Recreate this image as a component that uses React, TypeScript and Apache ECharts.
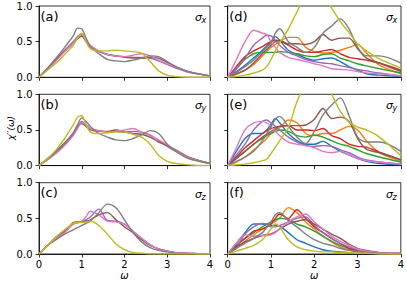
import React, { useEffect, useRef } from 'react';
import * as echarts from 'echarts';

// Frequency grid (omega)
const omega = [0, 0.2, 0.4, 0.6, 0.8, 0.9, 1.0, 1.1, 1.2, 1.4, 1.6, 1.8, 2.0, 2.2, 2.4, 2.6, 2.8, 3.0, 3.2, 3.5, 4.0];

// Panel (a) sigma_x, left
const aPurple = [0, 0.12, 0.25, 0.38, 0.5, 0.57, 0.6, 0.52, 0.44, 0.37, 0.32, 0.3, 0.29, 0.28, 0.28, 0.27, 0.23, 0.18, 0.13, 0.07, 0.02];
const aBrown = [0, 0.12, 0.25, 0.37, 0.48, 0.54, 0.58, 0.5, 0.43, 0.36, 0.32, 0.3, 0.28, 0.27, 0.27, 0.28, 0.27, 0.21, 0.15, 0.08, 0.02];
const aPink = [0, 0.11, 0.23, 0.36, 0.48, 0.56, 0.61, 0.53, 0.45, 0.37, 0.32, 0.3, 0.29, 0.31, 0.33, 0.3, 0.24, 0.19, 0.14, 0.08, 0.02];
const aGray = [0, 0.13, 0.27, 0.42, 0.58, 0.69, 0.68, 0.55, 0.43, 0.33, 0.25, 0.23, 0.22, 0.24, 0.27, 0.3, 0.29, 0.22, 0.15, 0.08, 0.02];
const aOlive = [0, 0.1, 0.2, 0.32, 0.45, 0.55, 0.62, 0.5, 0.4, 0.37, 0.37, 0.38, 0.37, 0.36, 0.34, 0.22, 0.09, 0.03, 0.01, 0, 0];

// Panel (b) sigma_y, left
const bPurple = [0, 0.09, 0.19, 0.3, 0.44, 0.54, 0.62, 0.57, 0.52, 0.49, 0.47, 0.48, 0.47, 0.48, 0.47, 0.43, 0.35, 0.27, 0.2, 0.11, 0.03];
const bBrown = [0, 0.1, 0.2, 0.32, 0.45, 0.55, 0.59, 0.55, 0.5, 0.48, 0.48, 0.5, 0.47, 0.45, 0.44, 0.4, 0.33, 0.28, 0.22, 0.12, 0.03];
const bPink = [0, 0.08, 0.17, 0.28, 0.42, 0.52, 0.6, 0.57, 0.52, 0.49, 0.47, 0.48, 0.5, 0.52, 0.47, 0.42, 0.36, 0.29, 0.21, 0.11, 0.03];
const bGray = [0, 0.09, 0.19, 0.31, 0.46, 0.57, 0.67, 0.62, 0.55, 0.45, 0.4, 0.36, 0.35, 0.38, 0.43, 0.49, 0.45, 0.3, 0.2, 0.1, 0.03];
const bOlive = [0, 0.1, 0.22, 0.38, 0.57, 0.68, 0.7, 0.58, 0.47, 0.45, 0.46, 0.47, 0.47, 0.44, 0.4, 0.3, 0.14, 0.06, 0.03, 0.01, 0];

// Panel (c) sigma_z, left
const cPurple = [0, 0.12, 0.24, 0.33, 0.42, 0.44, 0.45, 0.48, 0.52, 0.63, 0.47, 0.46, 0.42, 0.32, 0.22, 0.13, 0.07, 0.04, 0.02, 0.01, 0];
const cBrown = [0, 0.12, 0.22, 0.32, 0.44, 0.45, 0.45, 0.46, 0.48, 0.55, 0.58, 0.48, 0.38, 0.3, 0.2, 0.12, 0.07, 0.04, 0.02, 0.01, 0];
const cPink = [0, 0.12, 0.22, 0.3, 0.42, 0.44, 0.46, 0.52, 0.6, 0.55, 0.46, 0.45, 0.42, 0.32, 0.22, 0.13, 0.07, 0.04, 0.02, 0.01, 0];
const cGray = [0, 0.12, 0.2, 0.28, 0.34, 0.37, 0.4, 0.43, 0.46, 0.58, 0.7, 0.65, 0.48, 0.3, 0.17, 0.09, 0.05, 0.03, 0.01, 0.005, 0];
const cOlive = [0, 0.12, 0.24, 0.34, 0.43, 0.44, 0.44, 0.45, 0.46, 0.4, 0.28, 0.14, 0.06, 0.02, 0.01, 0, 0, 0, 0, 0, 0];

// Panel (d) sigma_x, right
const dBlue = [0, 0.08, 0.17, 0.27, 0.38, 0.44, 0.5, 0.57, 0.52, 0.38, 0.32, 0.27, 0.24, 0.26, 0.27, 0.22, 0.15, 0.1, 0.05, 0.03, 0.01];
const dOrange = [0, 0.04, 0.1, 0.18, 0.3, 0.36, 0.42, 0.46, 0.5, 0.56, 0.56, 0.42, 0.36, 0.34, 0.35, 0.38, 0.42, 0.46, 0.34, 0.17, 0.05];
const dGreen = [0, 0.12, 0.25, 0.33, 0.35, 0.35, 0.35, 0.35, 0.36, 0.35, 0.33, 0.3, 0.29, 0.32, 0.33, 0.27, 0.23, 0.19, 0.16, 0.12, 0.06];
const dRed = [0, 0.15, 0.29, 0.37, 0.43, 0.47, 0.5, 0.52, 0.51, 0.45, 0.38, 0.35, 0.35, 0.37, 0.39, 0.33, 0.28, 0.26, 0.24, 0.2, 0.1];
const dPurple = [0, 0.12, 0.27, 0.45, 0.55, 0.59, 0.58, 0.52, 0.45, 0.35, 0.3, 0.25, 0.22, 0.2, 0.19, 0.16, 0.14, 0.11, 0.09, 0.06, 0.02];
const dBrown = [0, 0.05, 0.1, 0.2, 0.33, 0.39, 0.45, 0.5, 0.52, 0.47, 0.47, 0.46, 0.5, 0.6, 0.52, 0.55, 0.55, 0.4, 0.27, 0.2, 0.08];
const dPink = [0, 0.25, 0.5, 0.66, 0.62, 0.6, 0.5, 0.42, 0.35, 0.28, 0.25, 0.22, 0.19, 0.16, 0.12, 0.11, 0.1, 0.08, 0.06, 0.05, 0.02];
const dGray = [0, 0.07, 0.15, 0.24, 0.36, 0.42, 0.48, 0.62, 0.68, 0.5, 0.42, 0.35, 0.42, 0.62, 0.72, 0.82, 0.68, 0.42, 0.3, 0.3, 0.2];
const dOlive = [0, 0.01, 0.03, 0.06, 0.1, 0.15, 0.25, 0.37, 0.48, 0.68, 0.92, 1.15, 1.25, 1.15, 0.97, 0.78, 0.63, 0.47, 0.37, 0.26, 0.13];

// Panel (e) sigma_y, right
const eBlue = [0, 0.2, 0.38, 0.45, 0.45, 0.5, 0.58, 0.66, 0.6, 0.45, 0.35, 0.3, 0.3, 0.34, 0.27, 0.2, 0.15, 0.1, 0.06, 0.03, 0.01];
const eOrange = [0, 0.05, 0.12, 0.22, 0.32, 0.38, 0.45, 0.5, 0.53, 0.64, 0.6, 0.45, 0.42, 0.45, 0.45, 0.5, 0.55, 0.5, 0.35, 0.18, 0.06];
const eGreen = [0, 0.1, 0.2, 0.3, 0.38, 0.42, 0.45, 0.48, 0.5, 0.48, 0.42, 0.4, 0.43, 0.4, 0.35, 0.3, 0.27, 0.22, 0.17, 0.12, 0.05];
const eRed = [0, 0.12, 0.25, 0.35, 0.45, 0.49, 0.52, 0.54, 0.55, 0.56, 0.5, 0.5, 0.49, 0.52, 0.42, 0.38, 0.3, 0.27, 0.26, 0.19, 0.08];
const ePurple = [0, 0.15, 0.3, 0.5, 0.62, 0.64, 0.6, 0.55, 0.5, 0.4, 0.33, 0.28, 0.27, 0.28, 0.27, 0.22, 0.18, 0.12, 0.08, 0.05, 0.02];
const eBrown = [0, 0.1, 0.2, 0.3, 0.4, 0.44, 0.48, 0.52, 0.55, 0.56, 0.56, 0.57, 0.65, 0.8, 0.66, 0.68, 0.62, 0.38, 0.23, 0.18, 0.08];
const ePink = [0, 0.25, 0.5, 0.6, 0.62, 0.6, 0.55, 0.48, 0.42, 0.33, 0.3, 0.28, 0.25, 0.2, 0.18, 0.2, 0.15, 0.1, 0.07, 0.05, 0.02];
const eGray = [0, 0.06, 0.12, 0.2, 0.35, 0.45, 0.55, 0.65, 0.69, 0.55, 0.4, 0.31, 0.48, 0.71, 0.85, 0.95, 0.7, 0.4, 0.33, 0.33, 0.2];
const eOlive = [0, 0.01, 0.02, 0.04, 0.07, 0.09, 0.17, 0.26, 0.35, 0.53, 0.9, 1.15, 1.3, 1.2, 1.0, 0.76, 0.61, 0.54, 0.5, 0.4, 0.14];

// Panel (f) sigma_z, right
const fBlue = [0, 0.15, 0.3, 0.42, 0.42, 0.41, 0.4, 0.4, 0.39, 0.3, 0.2, 0.15, 0.1, 0.06, 0.04, 0.03, 0.02, 0.01, 0.01, 0, 0];
const fOrange = [0, 0.08, 0.18, 0.27, 0.35, 0.38, 0.42, 0.46, 0.5, 0.65, 0.58, 0.45, 0.35, 0.25, 0.17, 0.1, 0.06, 0.03, 0.02, 0.01, 0];
const fGreen = [0, 0.12, 0.22, 0.3, 0.38, 0.42, 0.45, 0.48, 0.5, 0.48, 0.42, 0.38, 0.32, 0.25, 0.18, 0.12, 0.08, 0.05, 0.03, 0.01, 0];
const fRed = [0, 0.12, 0.22, 0.32, 0.35, 0.38, 0.42, 0.5, 0.56, 0.5, 0.62, 0.5, 0.38, 0.3, 0.22, 0.15, 0.08, 0.05, 0.03, 0.01, 0];
const fPurple = [0, 0.1, 0.28, 0.38, 0.43, 0.42, 0.38, 0.38, 0.4, 0.45, 0.5, 0.52, 0.4, 0.3, 0.22, 0.15, 0.1, 0.06, 0.04, 0.02, 0.01];
const fBrown = [0, 0.1, 0.17, 0.22, 0.26, 0.27, 0.28, 0.31, 0.35, 0.42, 0.46, 0.48, 0.42, 0.35, 0.28, 0.22, 0.14, 0.08, 0.05, 0.02, 0.01];
const fPink = [0, 0.15, 0.27, 0.25, 0.26, 0.26, 0.27, 0.3, 0.35, 0.45, 0.52, 0.56, 0.45, 0.35, 0.25, 0.18, 0.12, 0.07, 0.04, 0.02, 0.01];
const fGray = [0, 0.08, 0.15, 0.22, 0.3, 0.37, 0.45, 0.55, 0.58, 0.47, 0.38, 0.28, 0.2, 0.15, 0.12, 0.08, 0.05, 0.03, 0.02, 0.01, 0];
const fOlive = [0, 0.04, 0.08, 0.12, 0.2, 0.27, 0.35, 0.42, 0.38, 0.2, 0.1, 0.06, 0.04, 0.03, 0.03, 0.02, 0.02, 0.01, 0.01, 0, 0];

const xTicks = [0, 1, 2, 3, 4];
const yTicks = [0, 0.5, 1.0];
const panelLabels = ['(a)', '(b)', '(c)', '(d)', '(e)', '(f)'];
const sigmaSubs = ['x', 'y', 'z', 'x', 'y', 'z'];

const C = {
  blue: '#1f77b4', orange: '#ff7f0e', green: '#2ca02c', red: '#d62728', purple: '#9467bd',
  brown: '#8c564b', pink: '#e377c2', gray: '#7f7f7f', olive: '#bcbd22',
};

const panels: { col: number; row: number; lines: [string, number[]][] }[] = [
  { col: 0, row: 0, lines: [[C.purple, aPurple], [C.brown, aBrown], [C.pink, aPink], [C.gray, aGray], [C.olive, aOlive]] },
  { col: 0, row: 1, lines: [[C.purple, bPurple], [C.brown, bBrown], [C.pink, bPink], [C.gray, bGray], [C.olive, bOlive]] },
  { col: 0, row: 2, lines: [[C.purple, cPurple], [C.brown, cBrown], [C.pink, cPink], [C.gray, cGray], [C.olive, cOlive]] },
  { col: 1, row: 0, lines: [[C.blue, dBlue], [C.orange, dOrange], [C.green, dGreen], [C.red, dRed], [C.purple, dPurple], [C.brown, dBrown], [C.pink, dPink], [C.gray, dGray], [C.olive, dOlive]] },
  { col: 1, row: 1, lines: [[C.blue, eBlue], [C.orange, eOrange], [C.green, eGreen], [C.red, eRed], [C.purple, ePurple], [C.brown, eBrown], [C.pink, ePink], [C.gray, eGray], [C.olive, eOlive]] },
  { col: 1, row: 2, lines: [[C.blue, fBlue], [C.orange, fOrange], [C.green, fGreen], [C.red, fRed], [C.purple, fPurple], [C.brown, fBrown], [C.pink, fPink], [C.gray, fGray], [C.olive, fOlive]] },
];

const FONT = 'DejaVu Sans';

export default function App() {
  const ref = useRef<HTMLDivElement>(null);
  useEffect(() => {
    if (!ref.current) return;
    const chart = echarts.init(ref.current, null, { renderer: 'svg' });
    const LEFT = [39, 227.7];
    const WIDTH = [171, 173.3];
    const TOP = [6, 94.3, 182.7];
    const HEIGHT = 71.3;

    const grids: any[] = [];
    const xAxes: any[] = [];
    const yAxes: any[] = [];
    const series: any[] = [];
    const graphics: any[] = [];

    panels.forEach((p, i) => {
      const left = LEFT[p.col];
      const top = TOP[p.row];
      const width = WIDTH[p.col];
      grids.push({ left, top, width, height: HEIGHT, show: true, borderColor: '#000', borderWidth: 0.8, backgroundColor: 'transparent' });
      xAxes.push({
        type: 'value', gridIndex: i, min: xTicks[0], max: xTicks[xTicks.length - 1], interval: 1,
        axisLine: { show: true, lineStyle: { color: '#000', width: 0.8 } },
        axisTick: { show: true, length: 3.5, lineStyle: { color: '#000', width: 0.8 } },
        axisLabel: { show: p.row === 2, fontSize: 10, color: '#000', fontFamily: FONT, margin: 5 },
        splitLine: { show: false },
        name: p.row === 2 ? 'ω' : '',
        nameLocation: 'middle', nameGap: 16,
        nameTextStyle: { fontSize: 10, fontStyle: 'italic', color: '#000', fontFamily: FONT },
      });
      yAxes.push({
        type: 'value', gridIndex: i, min: yTicks[0], max: yTicks[yTicks.length - 1], interval: 0.5,
        axisLine: { show: true, lineStyle: { color: '#000', width: 0.8 } },
        axisTick: { show: true, length: 3.5, lineStyle: { color: '#000', width: 0.8 } },
        axisLabel: { show: p.col === 0, fontSize: 10, color: '#000', fontFamily: FONT, margin: 6.5, formatter: (v: number) => v.toFixed(1) },
        splitLine: { show: false },
      });
      p.lines.forEach(([color, arr]) => {
        series.push({
          type: 'line', xAxisIndex: i, yAxisIndex: i,
          data: omega.map((x, k) => [x, arr[k]]),
          showSymbol: false, symbol: 'none', smooth: 0.3, clip: true,
          lineStyle: { color, width: 1.4 }, itemStyle: { color },
        });
      });
      graphics.push({
        type: 'text', left: left + 1.5, top: top + 3.5,
        style: { text: panelLabels[i], fontSize: 13, fontFamily: FONT, fill: '#000' },
      });
      graphics.push({
        type: 'text', x: left + width - 15, y: top + 11.5,
        style: { text: 'σ', fontSize: 11, fontStyle: 'italic', fontFamily: FONT, fill: '#000', verticalAlign: 'middle', align: 'left' },
      });
      graphics.push({
        type: 'text', x: left + width - 8.5, y: top + 14.5,
        style: { text: sigmaSubs[i], fontSize: 8, fontStyle: 'italic', fontFamily: FONT, fill: '#000', verticalAlign: 'middle', align: 'left' },
      });
    });

    graphics.push({
      type: 'text', x: 11, y: 128, rotation: Math.PI / 2,
      style: { text: "χ′′(ω)", fontSize: 9, fontStyle: 'italic', fontFamily: FONT, fill: '#000', align: 'center', verticalAlign: 'middle' },
    });

    chart.setOption({
      animation: false,
      backgroundColor: '#fff',
      grid: grids,
      xAxis: xAxes,
      yAxis: yAxes,
      series,
      graphic: graphics,
    });
    return () => chart.dispose();
  }, []);
  return <div ref={ref} style={{ position: 'absolute', left: 0, top: 0, width: 407, height: 285, background: '#fff' }} />;
}
